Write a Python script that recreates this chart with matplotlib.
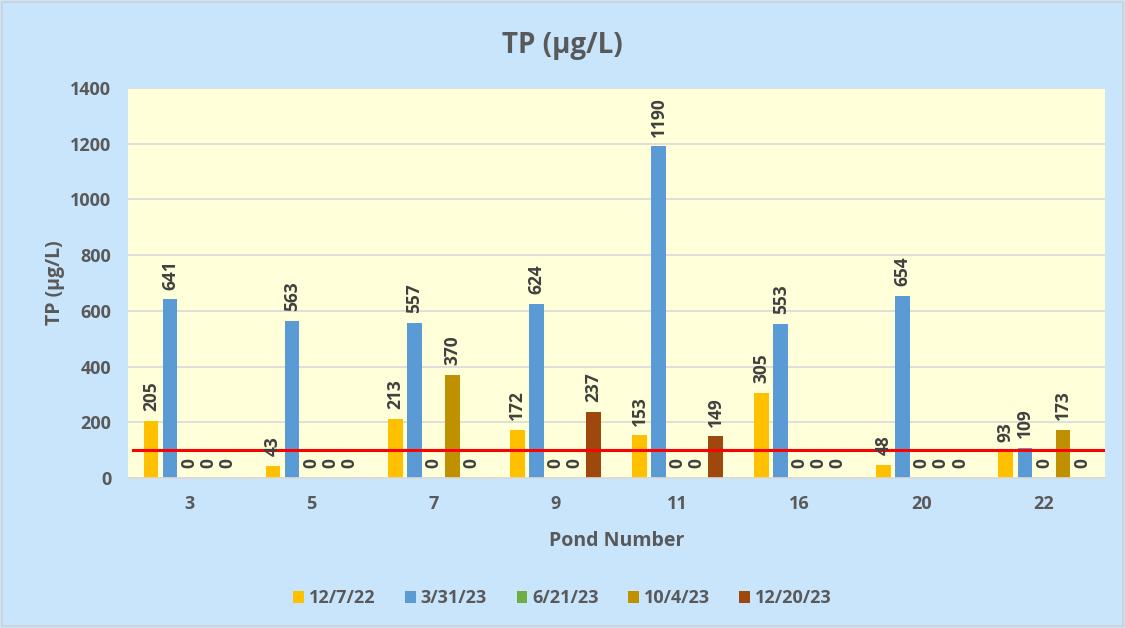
import numpy as np
import matplotlib.pyplot as plt
from matplotlib.patches import Rectangle

plt.rcParams['font.family'] = ['Open Sans', 'DejaVu Sans']

# Data
ponds = ["3", "5", "7", "9", "11", "16", "20", "22"]
dates = ["12/7/22", "3/31/23", "6/21/23", "10/4/23", "12/20/23"]
tp_12_7_22 = [205, 43, 213, 172, 153, 305, 48, 93]
tp_3_31_23 = [641, 563, 557, 624, 1190, 553, 654, 109]
tp_6_21_23 = [0, 0, 0, 0, 0, 0, 0, 0]
tp_10_4_23 = [0, 0, 370, 0, 0, 0, 0, 173]
tp_12_20_23 = [0, 0, 0, 237, 149, 0, 0, 0]
threshold = 100

series = [tp_12_7_22, tp_3_31_23, tp_6_21_23, tp_10_4_23, tp_12_20_23]
colors = ["#FFC000", "#5B9BD5", "#70AD47", "#BF9000", "#9E480E"]
text_col = "#595959"

fig = plt.figure(figsize=(11.25, 6.28), dpi=100, facecolor="#C9E5FB")
fig.patches.append(Rectangle((0.002, 0.003), 0.996, 0.994, transform=fig.transFigure,
                             fill=False, edgecolor="#D0D0D0", linewidth=1.2))
ax = fig.add_axes([0.1138, 0.2389, 0.8684, 0.621])
ax.set_facecolor("#FFFFD9")

x = np.arange(len(ponds))
pitch = 0.156
width = 0.12
for i, (vals, c, d) in enumerate(zip(series, colors, dates)):
    pos = x + (i - 2) * pitch
    bars = ax.bar(pos, vals, width, color=c, label=d, zorder=2)
    for b, v in zip(bars, vals):
        ax.annotate(str(v), (b.get_x() + b.get_width() / 2, v), xytext=(0, 7),
                    textcoords="offset points", rotation=90, ha="center", va="bottom",
                    fontsize=12.5, fontweight="bold", color="#404040", zorder=4)

ax.axhline(threshold, xmin=0.005, xmax=0.998, color="#FF0000", linewidth=2.2, zorder=3)

ax.set_xlim(-0.5, len(ponds) - 0.5)
ax.set_ylim(0, 1400)
ax.set_yticks(np.arange(0, 1401, 200))
ax.set_xticks(x)
ax.set_xticklabels(ponds)
ax.yaxis.grid(True, color="#D9D9D9", linewidth=1.2, zorder=0)
ax.set_axisbelow(True)
for s in ["top", "right", "left"]:
    ax.spines[s].set_visible(False)
ax.spines["bottom"].set_color("#D9D9D9")
ax.spines["bottom"].set_linewidth(1.2)
ax.tick_params(axis="both", length=0, labelsize=13, labelcolor=text_col)
ax.tick_params(axis="y", pad=12)
ax.tick_params(axis="x", pad=12)
for lbl in ax.get_xticklabels() + ax.get_yticklabels():
    lbl.set_fontweight("bold")

ax.set_xlabel("Pond Number", fontsize=14, fontweight="bold", color=text_col, labelpad=13)
ax.set_ylabel("TP (µg/L)", fontsize=14, fontweight="bold", color=text_col, labelpad=4)
fig.text(0.5, 0.927, "TP (µg/L)", ha="center", va="center", fontsize=20,
         fontweight="bold", color=text_col)

leg = fig.legend(loc="center", bbox_to_anchor=(0.5, 0.047), ncol=5, frameon=False,
                 fontsize=13, handlelength=0.6, handleheight=0.6, handletextpad=0.25,
                 columnspacing=1.65)
for t in leg.get_texts():
    t.set_color(text_col)
    t.set_fontweight("bold")

fig.savefig("out.png", dpi=100, facecolor=fig.get_facecolor())
